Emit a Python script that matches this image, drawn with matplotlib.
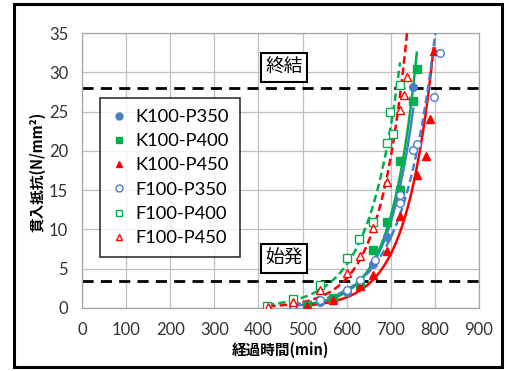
import numpy as np
import matplotlib
matplotlib.use("Agg")
import matplotlib.pyplot as plt
from matplotlib.patches import Rectangle

plt.rcParams['font.family'] = ['Lato', 'Noto Sans CJK JP', 'DejaVu Sans']

# ---- data ----
series_names = ["K100-P350", "K100-P400", "K100-P450", "F100-P350", "F100-P400", "F100-P450"]

k350_x = [479, 540, 600, 630, 660, 691, 721, 751]
k350_y = [0.3, 0.8, 2.0, 3.3, 5.6, 9.0, 15.2, 28.1]

k400_x = [509, 570, 630, 660, 691, 721, 721, 751, 759]
k400_y = [0.4, 1.3, 3.0, 7.4, 10.9, 15.0, 18.7, 26.4, 30.4]

k450_x = [509, 570, 630, 660, 691, 721, 759, 780, 789, 797]
k450_y = [0.2, 1.0, 2.8, 4.2, 7.3, 11.7, 16.9, 19.4, 24.0, 32.7]

f350_x = [479, 540, 600, 630, 664, 721, 721, 751, 759, 797, 812]
f350_y = [0.4, 1.0, 2.3, 3.6, 6.1, 13.4, 14.4, 20.1, 20.9, 26.9, 32.5]

f400_x = [419, 479, 540, 600, 629, 660, 691, 699, 706, 721]
f400_y = [0.3, 1.2, 2.9, 6.4, 8.8, 11.0, 21.0, 25.0, 22.2, 28.4]

f450_x = [422, 479, 540, 600, 630, 660, 691, 721, 730, 737]
f450_y = [0.1, 0.8, 2.3, 4.5, 6.6, 10.2, 16.1, 25.2, 27.1, 29.4]

x_ticks = [0, 100, 200, 300, 400, 500, 600, 700, 800, 900]
y_ticks = [0, 5, 10, 15, 20, 25, 30, 35]
initial_set = 3.5
final_set = 28.0

blue = "#4A7EC7"
green = "#00B050"
red = "#FF0000"

styles = [
    (k350_x, k350_y, blue, 'o', True, '-'),
    (k400_x, k400_y, green, 's', True, '-'),
    (k450_x, k450_y, red, '^', True, '-'),
    (f350_x, f350_y, blue, 'o', False, '--'),
    (f400_x, f400_y, green, 's', False, '--'),
    (f450_x, f450_y, red, '^', False, '--'),
]

fig = plt.figure(figsize=(5.09, 3.71), dpi=100)
ax = fig.add_axes([82/509, 1-308/371, (479-82)/509, (308-33)/371])

# outer frame
fig.patches.append(Rectangle((14/509, 4/371), (502-14)/509, (367-4)/371,
                             transform=fig.transFigure, fill=False,
                             edgecolor='black', linewidth=2.2))

ax.set_xlim(0, 900)
ax.set_ylim(0, 35)
ax.set_xticks(x_ticks)
ax.set_yticks(y_ticks)
ax.grid(True, color='#BFBFBF', linewidth=0.9)
ax.set_axisbelow(True)
for s in ax.spines.values():
    s.set_color('#A6A6A6')
    s.set_linewidth(0.9)
ax.tick_params(length=0, labelsize=12, pad=10, colors='#333333')

# set lines
ax.plot([0, 900], [final_set, final_set], color='black', lw=2.0, dashes=(4, 2.6), zorder=2)
ax.plot([0, 900], [initial_set, initial_set], color='black', lw=2.0, dashes=(4, 2.6), zorder=2)

handles = []
for (xs, ys, c, m, filled, ls), name in zip(styles, series_names):
    xs = np.array(xs, float)
    ys = np.array(ys, float)
    b, a = np.polyfit(xs, np.log(ys), 1)
    xx = np.linspace(xs.min(), xs.max(), 200)
    yy = np.exp(a + b * xx)
    ax.plot(xx, yy, color=c, lw=1.8, ls=ls, zorder=3,
            dashes=(3, 1.6) if ls == '--' else (None, None))
    ms = 5.5 if m == 'o' else 6
    h = ax.plot(xs, ys, linestyle='none', marker=m, markersize=ms,
                markerfacecolor=c if filled else 'white',
                markeredgecolor=c, markeredgewidth=1.0, zorder=4, label=name)[0]
    handles.append(h)

leg = ax.legend(handles=handles, loc='upper left',
                bbox_to_anchor=((100-82)/397, 1-(98-33)/275),
                fontsize=13.2, frameon=True, fancybox=False, edgecolor='black',
                handlelength=0.9, handletextpad=0.45, labelspacing=0.45,
                borderpad=0.6, borderaxespad=0)
leg.get_frame().set_linewidth(1.2)
for h in leg.legend_handles:
    h.set_markersize(5)

for txt, yv in [("終結", 30.6), ("始発", 6.3)]:
    ax.text(458, yv, txt, ha='center', va='center', fontsize=13.5,
            family=['Noto Sans CJK JP'], zorder=5,
            bbox=dict(boxstyle='square,pad=0.22', facecolor='white',
                      edgecolor='black', linewidth=1.5))

fig.text(37/509, 1-172/371, "貫入抵抗(N/mm²)", rotation=90, ha='center', va='center',
         fontsize=10.5, fontweight='bold', family=['Noto Sans CJK JP', 'DejaVu Sans'])
fig.text(280/509, 1-350/371, "経過時間(min)", ha='center', va='center',
         fontsize=10.5, fontweight='bold', family=['Noto Sans CJK JP', 'DejaVu Sans'])

fig.savefig("out.png", dpi=100)
